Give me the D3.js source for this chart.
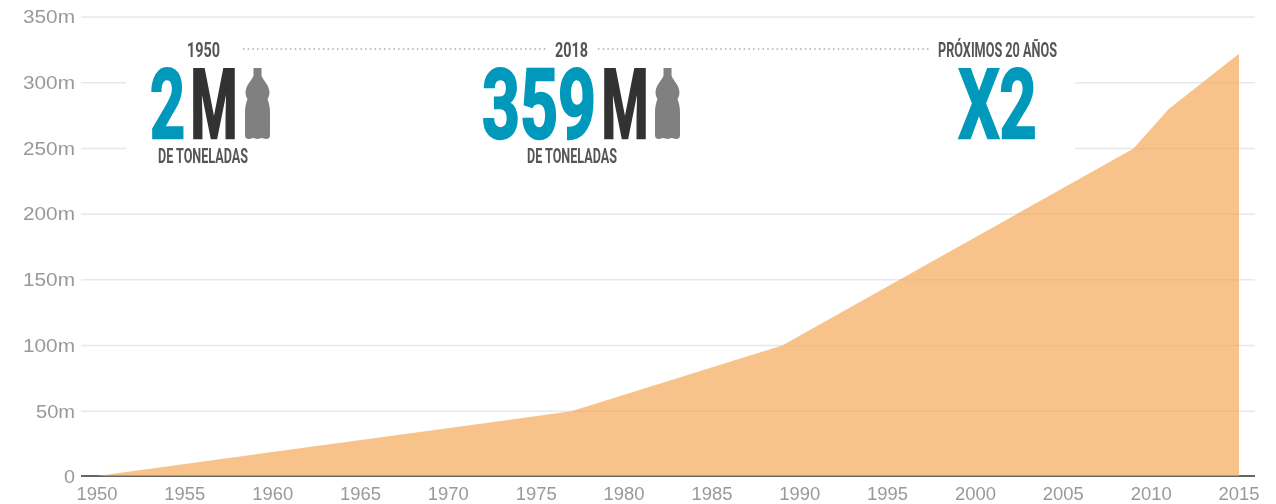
<!DOCTYPE html>
<html>
<head>
<meta charset="utf-8">
<script src="https://cdn.jsdelivr.net/npm/d3@7"></script>
<style>
html,body{margin:0;padding:0;background:#fff;overflow:hidden}
svg{display:block}
text{font-family:"Liberation Sans",Arial,sans-serif}
.cond{font-family:"Roboto","Liberation Sans",sans-serif;font-weight:700}
</style>
</head>
<body>
<svg id="chart" width="1276" height="504"></svg>
<script>
const years = [1950, 1977, 1989, 2009, 2011, 2015];
const tonnes = [0, 50, 100, 250, 280, 322];
const yTicks = [0, 50, 100, 150, 200, 250, 300, 350];
const xTicks = [1950,1955,1960,1965,1970,1975,1980,1985,1990,1995,2000,2005,2010,2015];
const headings = ["1950", "2018", "PRÓXIMOS 20 AÑOS"];
const bigBlue = ["2", "359", "X2"];
const unit = "M";
const caption = "DE TONELADAS";

const svg = d3.select("#chart");
const defs = svg.append("defs");
defs.append("filter").attr("id","soft").append("feGaussianBlur").attr("stdDeviation",0.55);

const x = d3.scaleLinear().domain([1950, 2015]).range([97, 1239]);
const y = d3.scaleLinear().domain([0, 350]).range([477, 17]);
const base = y(0) - 1;

const g = svg.append("g").attr("filter","url(#soft)");

// gridlines
g.append("g").selectAll("line").data(yTicks.filter(d => d > 0)).join("line")
  .attr("x1", 81).attr("x2", 1255)
  .attr("y1", d => y(d)).attr("y2", d => y(d))
  .attr("stroke", "#e8e8e8").attr("stroke-width", 1.5);

// baseline
g.append("line").attr("x1", 81).attr("x2", 1255).attr("y1", base).attr("y2", base)
  .attr("stroke", "#333").attr("stroke-width", 1.5);

// area
const area = d3.area().x((d,i) => x(years[i])).y0(base).y1(d => Math.min(y(d), base));
g.append("path").datum(tonnes).attr("d", area)
  .attr("fill", "#f5a95a").attr("opacity", 0.7);

// white panel behind the callouts
g.append("rect").attr("x",126).attr("y",26).attr("width",949).attr("height",146).attr("fill","#fff");

// axis labels
g.append("g").selectAll("text").data(yTicks).join("text")
  .attr("x", 75).attr("y", d => y(d)).attr("dy", "0.35em").attr("text-anchor", "end")
  .attr("font-size", 18).attr("fill", "#999")
  .attr("textLength", d => d === 0 ? 11 : (d < 100 ? 39 : 52)).attr("lengthAdjust","spacingAndGlyphs")
  .text(d => d === 0 ? "0" : d + "m");

g.append("g").selectAll("text").data(xTicks).join("text")
  .attr("x", d => x(d)).attr("y", 500).attr("text-anchor", "middle")
  .attr("font-size", 18).attr("fill", "#999")
  .attr("textLength", 41).attr("lengthAdjust","spacingAndGlyphs")
  .text(d => d);

// callouts
const ink = "#555", dark = "#333", blue = "#0099bb";
function cond(parent, str, xPos, yPos, size, len, fill){
  return parent.append("text").attr("class","cond").attr("x",xPos).attr("y",yPos)
    .attr("font-size",size).attr("fill",fill).attr("textLength",len)
    .attr("lengthAdjust","spacingAndGlyphs").text(str);
}
function big(parent, str, xPos, len, fill){
  return cond(parent, str, xPos, 138, 97, len, fill)
    .attr("stroke",fill).attr("stroke-width",2.5);
}
function bottle(parent, xPos){
  const b = parent.append("g").attr("transform",`translate(${xPos},68)`);
  b.append("path").attr("fill","#808080").attr("d",
    "M8.5 0H16.5V7C16.5 11 23.5 15 24.5 24C24.5 28 23 30 22.5 31C24 35 25 39 25 44V67C25 70 23.5 71 21 71C19 71 18.5 70 16.5 70C15 70 14.5 71 12.5 71C10.5 71 10 70 8.5 70C6.5 70 6 71 4 71C1.5 71 0 70 0 67V44C0 39 1 35 2.5 31C2 30 0.5 28 0.5 24C1.5 15 8.5 11 8.5 7Z");
}
const c = g.append("g");
cond(c, headings[0], 187, 57, 20, 33, ink);
cond(c, headings[1], 555, 57, 20, 33, ink);
cond(c, headings[2], 938, 57, 20, 119, ink);
cond(c, caption, 158, 163, 20, 90, ink);
cond(c, caption, 527, 163, 20, 90, ink);

big(c, bigBlue[0], 150, 35, blue);
big(c, unit, 190.5, 47, dark);
bottle(c, 245);
big(c, bigBlue[1], 482, 114, blue);
big(c, unit, 601.5, 47, dark);
bottle(c, 655);
big(c, bigBlue[2], 958.5, 78, blue);

// dotted leaders
const leaders = [[243,548],[598,929]];
c.selectAll("line.lead").data(leaders).join("line").attr("class","lead")
  .attr("x1",d=>d[0]).attr("x2",d=>d[1]).attr("y1",49).attr("y2",49)
  .attr("stroke","#aaa").attr("stroke-width",1.5).attr("stroke-dasharray","1.5 3.2");
</script>
</body>
</html>
